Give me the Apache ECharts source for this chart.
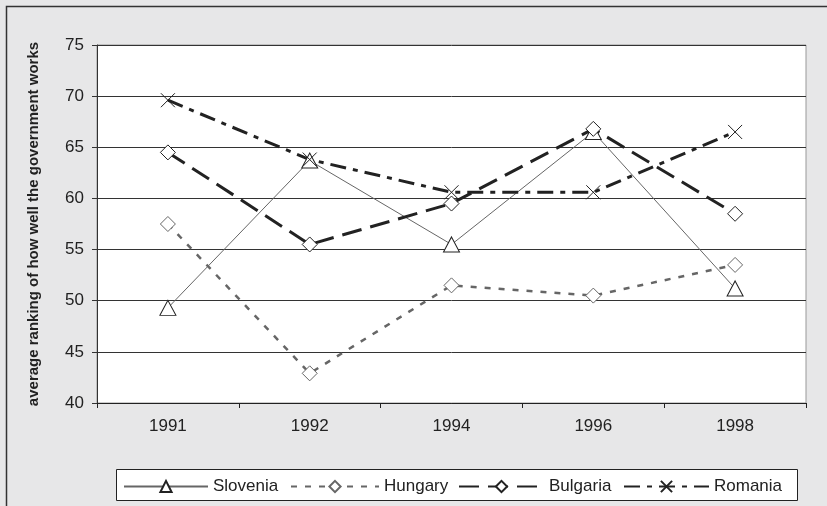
<!DOCTYPE html>
<html>
<head>
<meta charset="utf-8">
<style>
  html, body { margin: 0; padding: 0; background: #e7e7e8; }
  #chart { width: 827px; height: 506px; }
</style>
<script src="https://cdn.jsdelivr.net/npm/echarts@6/dist/echarts.min.js"></script>
</head>
<body>
<div id="chart"></div>
<script>
  // data
  const years = ['1991', '1992', '1994', '1996', '1998'];
  const slovenia = [49.3, 63.7, 55.5, 66.5, 51.2];
  const hungary = [57.5, 42.9, 51.5, 50.5, 53.5];
  const bulgaria = [64.5, 55.5, 59.5, 66.8, 58.5];
  const romania = [69.6, 63.8, 60.6, 60.6, 66.5];

  const FONT = '"Liberation Sans", Arial, sans-serif';
  const crossPath = 'path://M0,0L10,10M10,0L0,10';

  const chart = echarts.init(document.getElementById('chart'), null, { renderer: 'canvas' });

  const hollow = (c) => ({ color: '#fff', borderColor: c, borderWidth: 1 });

  // one legend per entry so each sample line can have its own width, like the original
  const legendItem = (name, left, w) => ({
    left: left, top: 478, padding: 0,
    itemWidth: w, itemHeight: 14, itemGap: 0,
    textStyle: { color: '#222', fontSize: 17, fontFamily: FONT },
    data: [name]
  });

  const option = {
    backgroundColor: '#e7e7e8',
    animation: false,
    textStyle: { fontFamily: FONT },
    grid: {
      left: 97, right: 21, top: 45, bottom: 103,
      show: true, backgroundColor: '#fff', borderColor: '#999', borderWidth: 1
    },
    xAxis: {
      type: 'category',
      data: years,
      boundaryGap: true,
      axisLine: { lineStyle: { color: '#222', width: 1 } },
      axisTick: { show: true, length: 5, lineStyle: { color: '#222' } },
      axisLabel: { color: '#222', fontSize: 17, margin: 15, fontFamily: FONT }
    },
    yAxis: {
      type: 'value',
      min: 40, max: 75, interval: 5,
      name: 'average ranking of how well the government works',
      nameLocation: 'middle',
      nameGap: 56,
      nameTextStyle: { color: '#222', fontSize: 15, fontWeight: 'bold', fontFamily: FONT },
      axisLine: { show: true, lineStyle: { color: '#333', width: 1 } },
      axisTick: { show: true, length: 5, lineStyle: { color: '#333' } },
      axisLabel: { color: '#222', fontSize: 17, margin: 13, fontFamily: FONT },
      splitLine: { lineStyle: { color: '#333', width: 1 } }
    },
    legend: [
      legendItem('Slovenia', 123, 84),
      legendItem('Hungary', 290, 88),
      legendItem('Bulgaria', 458, 85),
      legendItem('Romania', 623, 85)
    ],
    graphic: [
      { type: 'rect', silent: true, z: -1,
        shape: { x: 6.5, y: 6.5, width: 900, height: 600 },
        style: { fill: 'none', stroke: '#333', lineWidth: 1.5 } },
      { type: 'rect', silent: true, z: -1,
        shape: { x: 116.5, y: 469.5, width: 681, height: 31 },
        style: { fill: '#fff', stroke: '#222', lineWidth: 1 } }
    ],
    series: [
      {
        name: 'Slovenia', type: 'line', data: slovenia,
        symbol: 'triangle', symbolSize: [16, 15],
        lineStyle: { color: '#666', width: 1, type: 'solid' },
        itemStyle: hollow('#222')
      },
      {
        name: 'Hungary', type: 'line', data: hungary,
        symbol: 'diamond', symbolSize: 15,
        lineStyle: { color: '#666', width: 2.5, type: [6, 8] },
        itemStyle: hollow('#666')
      },
      {
        name: 'Bulgaria', type: 'line', data: bulgaria,
        symbol: 'diamond', symbolSize: 15,
        lineStyle: { color: '#222', width: 3, type: [20, 9] },
        itemStyle: hollow('#222')
      },
      {
        name: 'Romania', type: 'line', data: romania,
        symbol: crossPath, symbolSize: 14,
        lineStyle: { color: '#222', width: 3, type: [16, 7, 5, 7] },
        itemStyle: { color: 'none', borderColor: '#222', borderWidth: 1 }
      }
    ]
  };

  chart.setOption(option);
</script>
</body>
</html>
